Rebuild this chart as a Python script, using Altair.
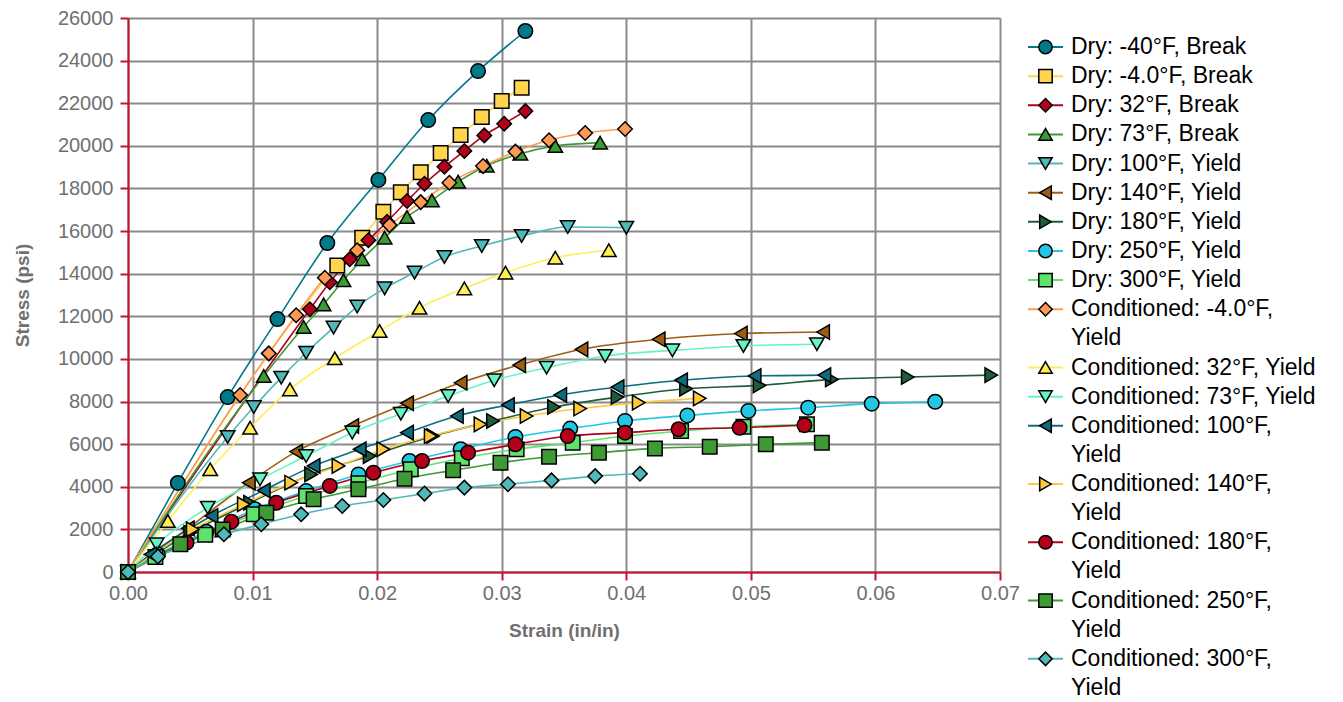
import altair as alt
import pandas as pd

FONT = "Liberation Sans"

series_names = [
    "Dry: -40°F, Break", "Dry: -4.0°F, Break", "Dry: 32°F, Break", "Dry: 73°F, Break",
    "Dry: 100°F, Yield", "Dry: 140°F, Yield", "Dry: 180°F, Yield", "Dry: 250°F, Yield",
    "Dry: 300°F, Yield", "Conditioned: -4.0°F, Yield", "Conditioned: 32°F, Yield",
    "Conditioned: 73°F, Yield", "Conditioned: 100°F, Yield", "Conditioned: 140°F, Yield",
    "Conditioned: 180°F, Yield", "Conditioned: 250°F, Yield", "Conditioned: 300°F, Yield",
]
series_colors = [
    "#00798a", "#ffd54f", "#b3001b", "#3d9a35", "#4fb9b9", "#9c5f12", "#1f5c3b", "#22c8e3",
    "#5fe36d", "#ff9a55", "#ffee58", "#66f3c4", "#0d6c80", "#ffc93c", "#b3001b", "#3d9a35",
    "#4fb9b9",
]
series_shapes = [
    "circle", "square", "diamond", "triangle-up", "triangle-down", "triangle-left",
    "triangle-right", "circle", "square", "diamond", "triangle-up", "triangle-down",
    "triangle-left", "triangle-right", "circle", "square", "diamond",
]

dry_m40_strain = [0, 0.0040, 0.0080, 0.0120, 0.0160, 0.0201, 0.0241, 0.0281, 0.0319]
dry_m40_stress = [0, 4180, 8210, 11870, 15440, 18400, 21210, 23510, 25390]
dry_m4_strain = [0, 0.0168, 0.0188, 0.0205, 0.0219, 0.0235, 0.0251, 0.0267, 0.0284, 0.0300, 0.0316]
dry_m4_stress = [0, 14390, 15690, 16910, 17820, 18760, 19660, 20510, 21350, 22100, 22730]
dry_32_strain = [0, 0.0146, 0.0162, 0.0178, 0.0193, 0.0208, 0.0224, 0.0238, 0.0254, 0.0270, 0.0286, 0.0302, 0.0319]
dry_32_stress = [0, 12330, 13600, 14680, 15570, 16440, 17410, 18220, 19020, 19760, 20490, 21040, 21630]
dry_73_strain = [0, 0.0109, 0.0141, 0.0157, 0.0173, 0.0188, 0.0206, 0.0224, 0.0244, 0.0265, 0.0288, 0.0315, 0.0343, 0.0379]
dry_73_stress = [0, 9200, 11500, 12560, 13690, 14680, 15690, 16660, 17440, 18320, 19070, 19630, 19990, 20150]
dry_100_strain = [0, 0.0080, 0.0101, 0.0123, 0.0143, 0.0165, 0.0184, 0.0206, 0.0230, 0.0254, 0.0284, 0.0316, 0.0353, 0.0400]
dry_100_stress = [0, 6340, 7740, 9120, 10290, 11470, 12460, 13310, 14050, 14780, 15300, 15770, 16190, 16160]
dry_140_strain = [0, 0.0048, 0.0097, 0.0135, 0.0180, 0.0224, 0.0267, 0.0314, 0.0364, 0.0426, 0.0492, 0.0558]
dry_140_stress = [0, 2050, 4190, 5650, 6850, 7920, 8880, 9710, 10450, 10920, 11190, 11260]
dry_180_strain = [0, 0.0050, 0.0098, 0.0147, 0.0194, 0.0245, 0.0293, 0.0342, 0.0393, 0.0448, 0.0507, 0.0565, 0.0626, 0.0693]
dry_180_stress = [0, 1840, 3250, 4580, 5440, 6380, 7090, 7740, 8210, 8600, 8760, 9040, 9150, 9240]
dry_250_strain = [0, 0.0024, 0.0063, 0.0102, 0.0143, 0.0185, 0.0226, 0.0267, 0.0311, 0.0355, 0.0399, 0.0449, 0.0498, 0.0546, 0.0597, 0.0648]
dry_250_stress = [0, 830, 1890, 2940, 3800, 4580, 5210, 5760, 6340, 6730, 7090, 7350, 7560, 7710, 7900, 7990]
dry_300_strain = [0, 0.0022, 0.0062, 0.0101, 0.0143, 0.0185, 0.0227, 0.0268, 0.0312, 0.0357, 0.0399, 0.0444, 0.0494, 0.0545]
dry_300_stress = [0, 700, 1750, 2710, 3570, 4170, 4820, 5340, 5760, 6070, 6380, 6620, 6820, 6930]
cond_m4_strain = [0, 0.0090, 0.0113, 0.0135, 0.0158, 0.0184, 0.0210, 0.0235, 0.0258, 0.0285, 0.0311, 0.0338, 0.0367, 0.0399]
cond_m4_stress = [0, 8310, 10260, 12050, 13810, 15100, 16280, 17360, 18270, 19050, 19730, 20260, 20600, 20790]
cond_32_strain = [0, 0.0032, 0.0066, 0.0098, 0.0130, 0.0166, 0.0202, 0.0234, 0.0270, 0.0303, 0.0343, 0.0386]
cond_32_stress = [0, 2390, 4820, 6770, 8570, 10030, 11310, 12400, 13310, 14050, 14750, 15100]
cond_73_strain = [0, 0.0023, 0.0064, 0.0106, 0.0143, 0.0180, 0.0219, 0.0257, 0.0294, 0.0336, 0.0383, 0.0437, 0.0494, 0.0553]
cond_73_stress = [0, 1300, 3020, 4350, 5440, 6540, 7430, 8260, 9000, 9590, 10140, 10400, 10610, 10690]
cond_100_strain = [0, 0.0018, 0.0067, 0.0109, 0.0149, 0.0186, 0.0224, 0.0264, 0.0305, 0.0347, 0.0393, 0.0444, 0.0503, 0.0559]
cond_100_stress = [0, 830, 2630, 3830, 4980, 5760, 6540, 7320, 7840, 8310, 8680, 9000, 9200, 9240]
cond_140_strain = [0, 0.0052, 0.0093, 0.0131, 0.0169, 0.0205, 0.0243, 0.0283, 0.0320, 0.0363, 0.0410, 0.0459]
cond_140_stress = [0, 2000, 3180, 4190, 4980, 5760, 6380, 6930, 7320, 7670, 7950, 8150]
cond_180_strain = [0, 0.0047, 0.0083, 0.0119, 0.0162, 0.0197, 0.0236, 0.0273, 0.0311, 0.0353, 0.0399, 0.0442, 0.0491, 0.0543]
cond_180_stress = [0, 1380, 2360, 3250, 4040, 4660, 5210, 5600, 5990, 6380, 6540, 6700, 6770, 6890]
cond_250_strain = [0, 0.0042, 0.0076, 0.0111, 0.0149, 0.0185, 0.0222, 0.0261, 0.0299, 0.0338, 0.0378, 0.0423, 0.0467, 0.0512, 0.0557]
cond_250_stress = [0, 1300, 2000, 2780, 3410, 3880, 4380, 4770, 5130, 5410, 5600, 5800, 5880, 5990, 6070]
cond_300_strain = [0, 0.0024, 0.0077, 0.0107, 0.0139, 0.0172, 0.0205, 0.0238, 0.0270, 0.0305, 0.0340, 0.0375, 0.0411]
cond_300_stress = [0, 730, 1770, 2240, 2710, 3100, 3380, 3680, 3960, 4120, 4300, 4500, 4610]

strain_lists = [dry_m40_strain, dry_m4_strain, dry_32_strain, dry_73_strain, dry_100_strain,
                dry_140_strain, dry_180_strain, dry_250_strain, dry_300_strain, cond_m4_strain,
                cond_32_strain, cond_73_strain, cond_100_strain, cond_140_strain, cond_180_strain,
                cond_250_strain, cond_300_strain]
stress_lists = [dry_m40_stress, dry_m4_stress, dry_32_stress, dry_73_stress, dry_100_stress,
                dry_140_stress, dry_180_stress, dry_250_stress, dry_300_stress, cond_m4_stress,
                cond_32_stress, cond_73_stress, cond_100_stress, cond_140_stress, cond_180_stress,
                cond_250_stress, cond_300_stress]

x_ticks = [0.0, 0.01, 0.02, 0.03, 0.04, 0.05, 0.06, 0.07]
y_ticks = list(range(0, 26001, 2000))

rows = []
for i, (name, xs, ys) in enumerate(zip(series_names, strain_lists, stress_lists)):
    for j, (sx, sy) in enumerate(zip(xs, ys)):
        rows.append({"series": name, "order": i, "idx": j, "strain": sx, "stress": sy})
df = pd.DataFrame(rows)

color_scale = alt.Scale(domain=series_names, range=series_colors)
shape_scale = alt.Scale(domain=series_names, range=series_shapes)

RED = "#c8102e"
GRID = "#8a8a8a"
LABEL = "#6f6f6f"

x_enc = alt.X(
    "strain:Q",
    scale=alt.Scale(domain=[0, 0.07], nice=False, zero=True),
    axis=alt.Axis(
        values=x_ticks, format=".2f", title="Strain (in/in)", labelFlush=False,
        labelFontSize=20, labelColor=LABEL, labelFont=FONT, labelPadding=3,
        titleFontSize=19, titleColor=LABEL, titleFont=FONT, titleFontWeight="bold", titlePadding=18,
        domainColor=RED, domainWidth=2, tickColor=RED, tickWidth=2, tickSize=8,
        gridColor=GRID, gridWidth=2, gridOpacity=1,
    ),
)
y_enc = alt.Y(
    "stress:Q",
    scale=alt.Scale(domain=[0, 26000], nice=False),
    axis=alt.Axis(
        values=y_ticks, format="d", title="Stress (psi)", labelFlush=False,
        labelFontSize=20, labelColor=LABEL, labelFont=FONT, labelPadding=7,
        titleFontSize=19, titleColor=LABEL, titleFont=FONT, titleFontWeight="bold", titlePadding=25,
        domainColor=RED, domainWidth=2, tickColor=RED, tickWidth=2, tickSize=8,
        gridColor=GRID, gridWidth=2, gridOpacity=1,
    ),
)

lines = alt.Chart(df).mark_line(strokeWidth=1.6, interpolate="monotone").encode(
    x=x_enc, y=y_enc,
    color=alt.Color("series:N", scale=color_scale, legend=None),
    detail="series:N",
    order="idx:Q",
)
points = alt.Chart(df).mark_point(filled=True, stroke="black", strokeWidth=1.5, size=210, opacity=1).encode(
    x="strain:Q", y="stress:Q",
    color=alt.Color("series:N", scale=color_scale, legend=None),
    shape=alt.Shape("series:N", scale=shape_scale, legend=None),
    order="order:Q",
)
main = alt.layer(lines, points).properties(width=872, height=554)

# custom legend (line + symbol + wrapped label)
leg_rows = []
txt_rows = []
line_no = 0
for name in series_names:
    if len(name) > 24:
        cut = name.rfind(", ")
        parts = [name[:cut + 1], name[cut + 2:]]
    else:
        parts = [name]
    leg_rows.append({"series": name, "line": line_no})
    for k, p in enumerate(parts):
        txt_rows.append({"series": name, "line": line_no + k, "text": p})
    line_no += len(parts)
leg_df = pd.DataFrame(leg_rows)
txt_df = pd.DataFrame(txt_rows)

leg_y = alt.Scale(domain=[0, line_no - 1], range=[29, 670])
leg_rule = alt.Chart(leg_df).mark_rule(strokeWidth=2).encode(
    x=alt.value(0), x2=alt.value(35),
    y=alt.Y("line:Q", scale=leg_y, axis=None),
    color=alt.Color("series:N", scale=color_scale, legend=None),
)
leg_pt = alt.Chart(leg_df).mark_point(filled=True, stroke="black", strokeWidth=1.5, size=180, opacity=1).encode(
    x=alt.value(17.5),
    y=alt.Y("line:Q", scale=leg_y, axis=None),
    color=alt.Color("series:N", scale=color_scale, legend=None),
    shape=alt.Shape("series:N", scale=shape_scale, legend=None),
)
leg_txt = alt.Chart(txt_df).mark_text(align="left", baseline="middle", fontSize=23, font=FONT, color="black").encode(
    x=alt.value(43),
    y=alt.Y("line:Q", scale=leg_y, axis=None),
    text="text:N",
)
legend = alt.layer(leg_rule, leg_pt, leg_txt).properties(width=290, height=554)

chart = alt.hconcat(main, legend, spacing=28, bounds="flush").properties(
    padding={"left": 5, "top": 0, "right": 5, "bottom": 0}
).configure(
    font=FONT,
    view=alt.ViewConfig(stroke="transparent", strokeWidth=0),
)

chart.save("out.html", embed_options={"renderer": "svg", "actions": False})
